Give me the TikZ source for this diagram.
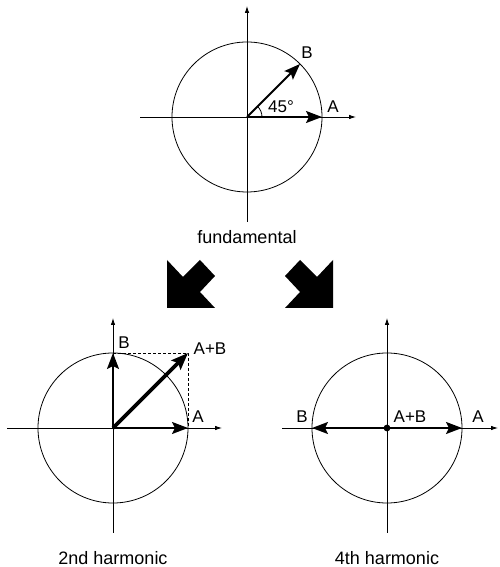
\documentclass[tikz,border=0pt]{standalone}
\usepackage{fontspec}
\setmainfont{Liberation Sans}
\usetikzlibrary{arrows.meta,calc}
\begin{document}
\begin{tikzpicture}[x=1pt,y=1pt,
  axis/.style={line width=0.8pt,-{Latex[length=7pt,width=4.5pt]}},
  ring/.style={line width=0.8pt},
  vec/.style={line width=1.9pt,-{Stealth[length=16pt,width=12pt,inset=3pt]}},
  bigvec/.style={line width=3.6pt,-{Stealth[length=17pt,width=13pt,inset=3pt]}},
  lab/.style={font=\fontsize{17}{19}\selectfont,inner sep=0pt},
  captxt/.style={font=\fontsize{18}{21}\selectfont,inner sep=0pt},
  blk/.style={fill=black,draw=none}]
\useasboundingbox (0,0) rectangle (499,567);
% ---------- top: fundamental ----------
\coordinate (O1) at (247,450);
\coordinate (T1) at (247,561);
\coordinate (D1) at (247,345);
\coordinate (L1) at (140,450);
\coordinate (R1) at (356,450);
\coordinate (A1) at (322,450);
\coordinate (B1) at (300,503);
\coordinate (arc1) at (262,450);
\draw[ring] (O1) circle[radius=75pt];
\draw[axis] (D1) -- (T1);
\draw[axis] (L1) -- (R1);
\draw[vec] (O1) -- (A1);
\draw[vec] (O1) -- (B1);
\draw[ring] (arc1) arc[start angle=0,end angle=45,radius=15pt];
\node[lab] (deg) at (281,460) {45°};
\node[lab] (lB1) at (307,514) {B};
\node[lab] (lA1) at (333,460) {A};
\node[captxt] (fund) at (247,330) {fundamental};
% ---------- block arrows ----------
\fill[blk] (167,307) -- (183,290) -- (200,307) -- (215,291) -- (200,275) -- (215,259) -- (167,259) -- cycle;
\fill[blk] (333,307) -- (317,290) -- (300,307) -- (285,291) -- (300,275) -- (285,259) -- (333,259) -- cycle;
% ---------- bottom-left: 2nd harmonic ----------
\coordinate (O2) at (113,139);
\coordinate (T2) at (113,249);
\coordinate (D2) at (113,34);
\coordinate (L2) at (7,139);
\coordinate (R2) at (222,139);
\coordinate (A2) at (188,139);
\coordinate (B2) at (113,214);
\coordinate (AB2) at (188,214);
\draw[ring] (O2) circle[radius=75pt];
\draw[axis] (D2) -- (T2);
\draw[axis] (L2) -- (R2);
\draw[ring,dashed,dash pattern=on 3pt off 2pt] (B2) -- (AB2) -- (A2);
\draw[vec] (O2) -- (A2);
\draw[vec] (O2) -- (B2);
\draw[bigvec] (O2) -- (AB2);
\node[lab] (lB2) at (124,224) {B};
\node[lab] (lAB2) at (210,218) {A+B};
\node[lab] (lA2) at (198,150) {A};
\node[captxt] (second) at (113,9) {2nd harmonic};
% ---------- bottom-right: 4th harmonic ----------
\coordinate (O3) at (387,139);
\coordinate (T3) at (387,249);
\coordinate (D3) at (387,34);
\coordinate (L3) at (282,139);
\coordinate (R3) at (498,139);
\coordinate (A3) at (462,139);
\coordinate (B3) at (312,139);
\draw[ring] (O3) circle[radius=75pt];
\draw[axis] (D3) -- (T3);
\draw[axis] (L3) -- (R3);
\draw[vec] (O3) -- (A3);
\draw[vec] (O3) -- (B3);
\fill (O3) circle[radius=3.4pt];
\node[lab] (lB3) at (302,150) {B};
\node[lab] (lAB3) at (410,150) {A+B};
\node[lab] (lA3) at (478,150) {A};
\node[captxt] (fourth) at (387,9) {4th harmonic};
\end{tikzpicture}
\end{document}
